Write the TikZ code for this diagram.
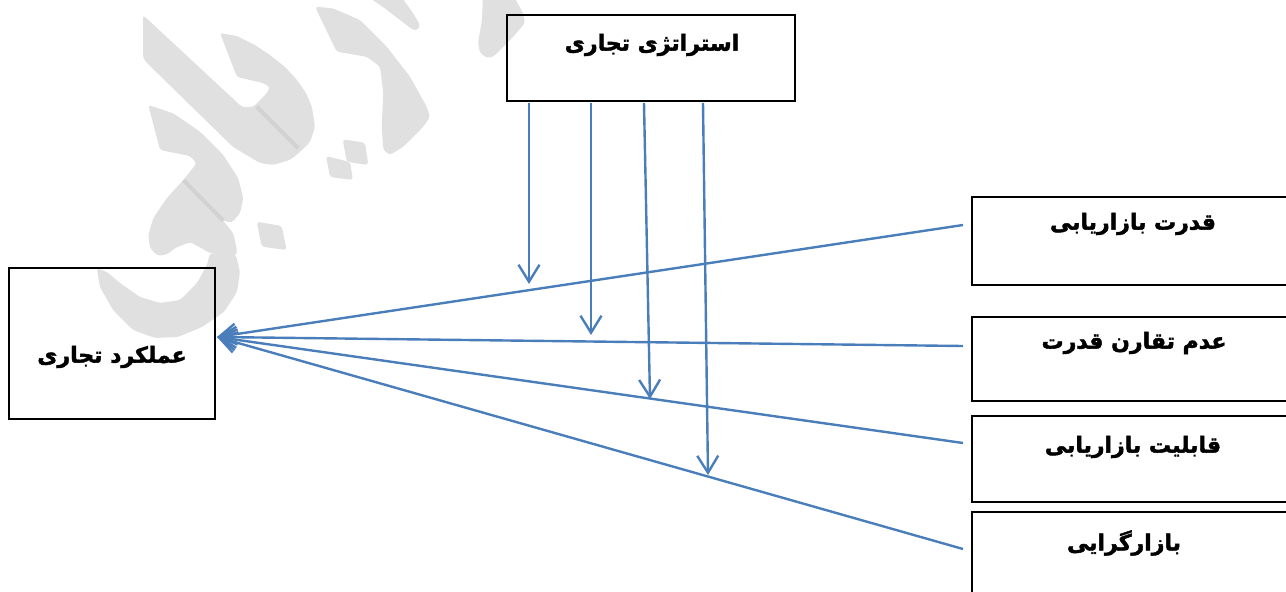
\documentclass[tikz,border=0pt]{standalone}
\usepackage{fontspec}
\usetikzlibrary{arrows.meta}
\TeXXeTstate=1
\newfontfamily\fa[Script=Arabic, BoldFeatures={FakeBold=2}]{DejaVu Sans}
\definecolor{lineblue}{HTML}{4A7EBB}
\definecolor{wmgray}{HTML}{E0E0E0}
\definecolor{wmdark}{HTML}{D2D2D2}
\tikzset{
  box/.style={draw=black, line width=2.4pt, inner sep=0pt, rectangle},
  lbl/.style={font=\fa\bfseries\fontsize{22}{26}\selectfont, inner sep=0pt, text=black},
  arr/.style={draw=lineblue, line width=2.4pt, -{Straight Barb[length=17pt,width=21pt,line width=2.4pt]}},
  wm/.style={fill=wmgray, draw=none, rounded corners=3pt},
  wmline/.style={draw=wmdark, line width=4pt}
}
\begin{document}
\begin{tikzpicture}[x=1pt,y=-1pt]
\useasboundingbox (0,0) rectangle (1286,592);
\clip (0,0) rectangle (1286,592);
% watermark shapes
\fill[wm] (143,15) -- (242,107) -- (253,107) -- (267,93) -- (270,87) -- (263,83) -- (237,77) -- (220,33) -- (237,36) -- (255,45) -- (270,55) -- (285,67) -- (297,80) -- (306,93) -- (312,107) -- (315,127) -- (310,142) -- (300,152) -- (290,160) -- (273,165) -- (260,163) -- (233,147) -- (147,63) -- (143,58) -- cycle;
\fill[wm] (148.3,105) -- (173.3,113.3) -- (200,131.7) -- (223.3,155) -- (238.3,178.3) -- (243.3,198.3) -- (240,213.3) -- (231.7,222.7) -- (223.3,220.7) -- (183.3,180) -- (196.7,163.3) -- (190,156) -- (160,150) -- cycle;
\fill[wm] (183.3,180) -- (223.3,220.7) -- (233.3,233.3) -- (237,250) -- (236,256) -- (210,253) -- (190,242) -- (175,248) -- (168,254) -- (158,256) -- (150,248) -- (148.3,235) -- (153.3,218) -- (166.7,198.3) -- cycle;
\fill[wm] (96.7,268.3) -- (100,287) -- (113,310) -- (133,330) -- (155,338) -- (178,337) -- (202,327) -- (224,312) -- (237,292) -- (240,272) -- (236,255) -- (210,253) -- (207,265) -- (197,283) -- (180,300) -- (160,303) -- (140,297) -- (120,283) -- (107,272) -- cycle;
\fill[wm] (315,6.7) -- (333,8.3) -- (360,20) -- (386.7,46.7) -- (410,76.7) -- (426.7,106.7) -- (430,116.7) -- (423.3,126.7) -- (403.3,146.7) -- (390,155) -- (383.3,150) -- (381.7,126.7) -- (383.3,93.3) -- (380,66.7) -- (366.7,56.7) -- (336.7,51.7) -- cycle;
\fill[wm] (365,-5) -- (400,-5) -- (413,13) -- (420,25) -- (418,30) -- (413,30) -- (400,20) -- (383,7) -- cycle;
\fill[wm] (483,-5) -- (513,-5) -- (523,13) -- (525,23) -- (513,37) -- (493,57) -- (487,58) -- (480,53) -- (478,43) -- (482,20) -- cycle;
\fill[wm] (256.7,221.7) -- (281.7,226) -- (286.7,250) -- (261.7,246.7) -- cycle;
\fill[wm] (326,156) -- (350,162) -- (353,180) -- (330,177) -- cycle;
\fill[wm] (342.7,139.3) -- (365,142.7) -- (368.3,165) -- (346.7,161.7) -- cycle;
\draw[wmline] (256.7,106.7) -- (298.3,148.3);
\draw[wmline] (183.3,180) -- (223.3,220.7);
% boxes
\node[box, minimum width=288, minimum height=86] (top) at (651,58) {};
\node[box, minimum width=206, minimum height=151] (left) at (112,343.5) {};
\node[box, minimum width=340, minimum height=88] (r1) at (1142,241) {};
\node[box, minimum width=340, minimum height=84] (r2) at (1142,359) {};
\node[box, minimum width=340, minimum height=86] (r3) at (1142,459) {};
\node[box, minimum width=340, minimum height=88] (r4) at (1142,556) {};
% labels
\node[lbl] (ttop) at (652,45) {\beginR استراتژی تجاری\endR};
\node[lbl] (tleft) at (112,357) {\beginR عملکرد تجاری\endR};
\node[lbl] (t1) at (1133,224) {\beginR قدرت بازاریابی\endR};
\node[lbl] (t2) at (1134,343) {\beginR عدم تقارن قدرت\endR};
\node[lbl] (t3) at (1133,447) {\beginR قابلیت بازاریابی\endR};
\node[lbl] (t4) at (1124,543) {\beginR بازارگرایی\endR};
% connector ends
\coordinate (e) at (217,337);
\coordinate (s1) at (963,225);
\coordinate (s2) at (963,346);
\coordinate (s3) at (963,443);
\coordinate (s4) at (963,549);
\coordinate (v1s) at (529,103);
\coordinate (v1e) at (529,284);
\coordinate (v2s) at (591,103);
\coordinate (v2e) at (591,335);
\coordinate (v3s) at (644,103);
\coordinate (v3e) at (650,399);
\coordinate (v4s) at (703,103);
\coordinate (v4e) at (708,475);
% connectors
\draw[arr] (s1) -- (e);
\draw[arr] (s2) -- (e);
\draw[arr] (s3) -- (e);
\draw[arr] (s4) -- (e);
\draw[arr] (v1s) -- (v1e);
\draw[arr] (v2s) -- (v2e);
\draw[arr] (v3s) -- (v3e);
\draw[arr] (v4s) -- (v4e);
\end{tikzpicture}
\end{document}
